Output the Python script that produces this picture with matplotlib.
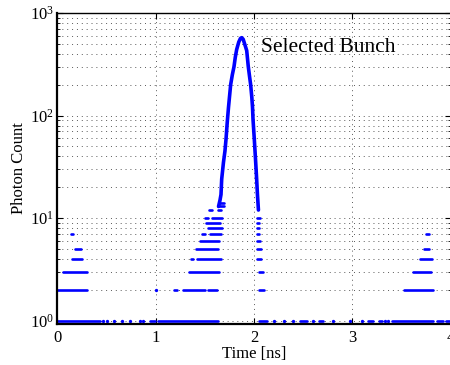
import matplotlib
matplotlib.use('Agg')
import matplotlib.pyplot as plt
from matplotlib.ticker import LogLocator, FixedLocator, NullFormatter

plt.rcParams['font.family'] = ['Liberation Serif', 'DejaVu Serif']
plt.rcParams['mathtext.fontset'] = 'custom'
plt.rcParams['mathtext.rm'] = 'Liberation Serif'
plt.rcParams['mathtext.it'] = 'Liberation Serif:italic'

# ---- data ----
# horizontal runs of bins with equal photon count: count, start [ns], end [ns]
seg_count = [1, 1, 1, 1, 1, 1, 1, 1, 1, 1, 1,
             2, 2, 2, 2, 2, 2,
             3, 3, 3, 3,
             4, 4, 4, 4, 4,
             5, 5, 5, 5,
             6, 6,
             7, 7, 7, 7, 7,
             8, 8, 9, 9,
             10, 10, 10,
             12, 12, 13, 14]
seg_start = [0.00, 0.94, 1.03, 2.05, 2.47, 2.66, 3.16, 3.27, 3.40, 3.86, 3.95,
             0.00, 1.19, 1.28, 1.53, 2.05, 3.52,
             0.06, 1.34, 2.05, 3.61,
             0.15, 1.36, 1.42, 2.03, 3.69,
             0.18, 1.41, 2.03, 3.73,
             1.45, 2.03,
             0.14, 1.47, 1.55, 2.03, 3.75,
             1.53, 2.03, 1.51, 2.03,
             1.50, 1.57, 2.03,
             1.54, 1.63, 1.63, 1.64]
seg_end = [0.44, 0.99, 1.63, 2.13, 2.54, 2.70, 3.21, 3.30, 3.82, 3.92, 4.00,
           0.30, 1.22, 1.50, 1.62, 2.10, 3.82,
           0.30, 1.64, 2.09, 3.80,
           0.25, 1.38, 1.66, 2.07, 3.81,
           0.24, 1.63, 2.07, 3.78,
           1.64, 2.06,
           0.16, 1.50, 1.66, 2.05, 3.78,
           1.68, 2.05, 1.65, 2.05,
           1.53, 1.68, 2.06,
           1.57, 1.67, 1.70, 1.70]

# isolated single bins
dot_ns = [0.47, 0.51, 0.58, 0.66, 0.74, 0.84, 0.87, 1.01, 2.20, 2.30, 2.40,
          2.60, 2.80, 2.97, 3.10, 3.33, 3.36]
dot_counts = [1, 1, 1, 1, 1, 1, 1, 2, 1, 1, 1,
              1, 1, 1, 1, 1, 1]

# the selected bunch (peak): time [ns] and photon count
peak_ns = [1.640, 1.655, 1.665, 1.672, 1.690, 1.705, 1.716, 1.728, 1.741,
           1.763, 1.780, 1.797, 1.810, 1.824, 1.845, 1.862, 1.875,
           1.890, 1.905, 1.926, 1.942, 1.955, 1.966, 1.978, 1.985, 1.990,
           2.003, 2.015, 2.027, 2.035, 2.045]
peak_counts = [13, 15, 17, 24, 35, 45, 59, 85, 120,
               200, 250, 300, 370, 440, 520, 565, 575,
               555, 500, 430, 300, 240, 200, 150, 120, 92,
               59, 38, 24, 17, 12]

label_text = 'Selected Bunch'
label_pos = (2.07, 460)

# ---- figure ----
blue = '#0000ff'
fig = plt.figure(figsize=(4.5, 3.65), dpi=100)
ax = fig.add_axes([57 / 450, 41.5 / 365, (451 - 57) / 450, (323.5 - 13) / 365])

for c, x0, x1 in zip(seg_count, seg_start, seg_end):
    ax.plot([x0, x1], [c, c], color=blue, lw=1.9, solid_capstyle='round')
ax.plot(dot_ns, dot_counts, ls='none', marker='o', ms=2.4, mec='none', mfc=blue)
ax.plot(peak_ns, peak_counts, color=blue, lw=2.6, solid_capstyle='round',
        solid_joinstyle='round')

ax.set_yscale('log')
ax.set_xlim(0, 4)
ax.set_ylim(0.94, 1000)

ax.xaxis.set_major_locator(FixedLocator([0, 1, 2, 3, 4]))
ax.set_xticklabels(['0', '1', '2', '3', '4'])
ax.yaxis.set_major_locator(LogLocator(base=10, numticks=10))
ax.yaxis.set_minor_locator(LogLocator(base=10, subs=range(2, 10), numticks=10))
ax.yaxis.set_minor_formatter(NullFormatter())

ax.grid(True, which='major', axis='both', color='0.35', lw=0.7, ls=(0, (1, 4)))
ax.grid(True, which='minor', axis='y', color='0.35', lw=0.7, ls=(0, (1, 4)))
ax.set_axisbelow(True)

ax.tick_params(which='both', direction='in', top=True, right=True, labelsize=12)
ax.tick_params(which='major', length=4, width=0.8)
ax.tick_params(which='minor', length=2.5, width=0.6)
ax.tick_params(axis='x', pad=5)
ax.tick_params(axis='y', pad=2)

for s in ['left', 'bottom']:
    ax.spines[s].set_linewidth(1.6)
ax.spines['top'].set_linewidth(1.0)
ax.spines['right'].set_visible(False)

ax.set_xlabel('Time [ns]', fontsize=12, labelpad=0)
ax.set_ylabel('Photon Count', fontsize=12, labelpad=2)

ax.text(label_pos[0], label_pos[1], label_text, fontsize=15.5, ha='left', va='center')

fig.savefig('out.png', dpi=100)
